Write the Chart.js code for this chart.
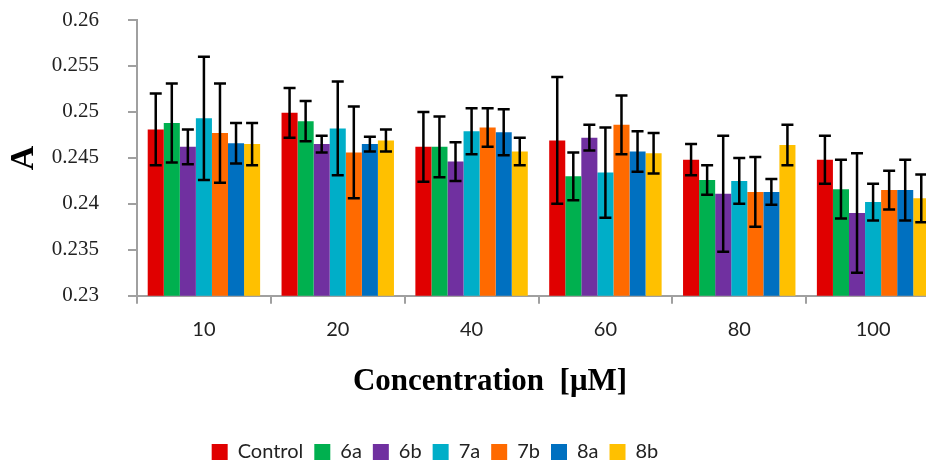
<!DOCTYPE html>
<html>
<head>
<meta charset="utf-8">
<title>Absorbance vs concentration</title>
<script src="https://cdn.jsdelivr.net/npm/chart.js@4.4.1/dist/chart.umd.min.js"></script>
<style>
    html, body { margin: 0; padding: 0; background: #fff; overflow: hidden; }
    #wrap { width: 940px; height: 463px; position: relative; }
</style>
</head>
<body>
<div id="wrap"><canvas id="myBarChart"></canvas></div>
<script>
// Data
const concentrations = ['10', '20', '40', '60', '80', '100'];
const seriesNames = ['Control', '6a', '6b', '7a', '7b', '8a', '8b'];

const control = [0.2481, 0.2499, 0.2462, 0.2469, 0.2448, 0.2448];
const s6a = [0.2488, 0.2490, 0.2462, 0.2430, 0.2426, 0.2416];
const s6b = [0.2462, 0.2465, 0.2446, 0.2472, 0.2411, 0.2390];
const s7a = [0.2493, 0.2482, 0.2479, 0.2434, 0.2425, 0.2402];
const s7b = [0.2477, 0.2456, 0.2483, 0.2486, 0.2413, 0.2415];
const s8a = [0.2466, 0.2465, 0.2478, 0.2457, 0.2413, 0.2415];
const s8b = [0.2465, 0.2469, 0.2457, 0.2455, 0.2464, 0.2406];

// standard deviations (half length of each error bar)
const controlErr = [0.0039, 0.0027, 0.0038, 0.0069, 0.0017, 0.0026];
const s6aErr = [0.0043, 0.0022, 0.0033, 0.0026, 0.0016, 0.0032];
const s6bErr = [0.0019, 0.0009, 0.0021, 0.0014, 0.0063, 0.0065];
const s7aErr = [0.0067, 0.0051, 0.0025, 0.0049, 0.0025, 0.0020];
const s7bErr = [0.0054, 0.0050, 0.0021, 0.0032, 0.0038, 0.0021];
const s8aErr = [0.0022, 0.0008, 0.0025, 0.0022, 0.0014, 0.0033];
const s8bErr = [0.0023, 0.0012, 0.0015, 0.0022, 0.0022, 0.0026];

const colors = ['#e00000', '#00b04f', '#7030a0', '#00aec8', '#ff6a00', '#0070c0', '#ffc000'];

const values = [control, s6a, s6b, s7a, s7b, s8a, s8b];
const errors = [controlErr, s6aErr, s6bErr, s7aErr, s7bErr, s8aErr, s8bErr];

// Draws the black error bars on top of each bar
const errorBars = {
    id: 'errorBars',
    afterDatasetsDraw(chart) {
        const ctx = chart.ctx;
        const yScale = chart.scales.y;
        ctx.save();
        ctx.strokeStyle = '#000';
        ctx.lineWidth = 2.5;
        chart.data.datasets.forEach((ds, i) => {
            chart.getDatasetMeta(i).data.forEach((bar, j) => {
                const top = yScale.getPixelForValue(ds.data[j] + ds.errors[j]);
                const bottom = yScale.getPixelForValue(ds.data[j] - ds.errors[j]);
                const cap = 6;
                ctx.beginPath();
                ctx.moveTo(bar.x, top);
                ctx.lineTo(bar.x, bottom);
                ctx.moveTo(bar.x - cap, top);
                ctx.lineTo(bar.x + cap, top);
                ctx.moveTo(bar.x - cap, bottom);
                ctx.lineTo(bar.x + cap, bottom);
                ctx.stroke();
            });
        });
        ctx.restore();
    }
};

// The original figure has the axis title and legend a bit left of centre
const nudgeBoxes = {
    id: 'nudgeBoxes',
    afterLayout(chart) {
        const move = (box, dx, dy) => {
            box.left += dx; box.right += dx;
            box.top += dy; box.bottom += dy;
        };
        move(chart.legend, -35, 9);
        move(chart.titleBlock, 20, 0);
    }
};

document.addEventListener('DOMContentLoaded', function () {
    let ctx = document.getElementById('myBarChart').getContext('2d');

    let data = {
        labels: concentrations,
        datasets: seriesNames.map((name, i) => ({
            label: name,
            data: values[i],
            errors: errors[i],
            backgroundColor: colors[i],
            borderWidth: 0,
            categoryPercentage: 0.84,
            barPercentage: 1.0
        }))
    };

    let options = {
        responsive: true,
        maintainAspectRatio: false,
        animation: false,
        layout: { padding: 0 },
        scales: {
            x: {
                afterFit: (scale) => { scale.height = 50; },
                grid: { drawOnChartArea: false, tickLength: 8, color: '#a0a0a0', lineWidth: 2 },
                border: { color: '#a0a0a0', width: 2 },
                ticks: { color: '#222', padding: 14, font: { family: 'Lato', size: 20 } }
            },
            y: {
                min: 0.23,
                max: 0.26,
                afterFit: (scale) => {
                    scale.width = 137;
                    scale.paddingTop = 20;
                    scale.paddingBottom = 0;
                },
                grid: { drawOnChartArea: false, tickLength: 9, color: '#a0a0a0', lineWidth: 2 },
                border: { color: '#a0a0a0', width: 2 },
                ticks: {
                    stepSize: 0.005,
                    color: '#222',
                    padding: 29,
                    font: { family: 'Liberation Serif', size: 21 },
                    callback: (v) => String(+v.toFixed(3))
                },
                title: {
                    display: true,
                    text: 'A',
                    color: '#000',
                    padding: { top: 4, bottom: 0 },
                    font: { family: 'Liberation Serif', size: 34, weight: 'bold' }
                }
            }
        },
        plugins: {
            title: {
                display: true,
                text: 'Concentration  [μM]',
                position: 'bottom',
                weight: 500,
                color: '#000',
                padding: { top: 18, bottom: 21 },
                font: { family: 'Liberation Serif', size: 31, weight: 'bold' }
            },
            legend: {
                position: 'bottom',
                labels: {
                    color: '#222',
                    boxWidth: 16,
                    boxHeight: 16,
                    padding: 11,
                    font: { family: 'Lato', size: 20 }
                }
            },
            tooltip: { enabled: false }
        }
    };

    let myBarChart = new Chart(ctx, {
        type: 'bar',
        data: data,
        options: options,
        plugins: [errorBars, nudgeBoxes]
    });
});
</script>
</body>
</html>
